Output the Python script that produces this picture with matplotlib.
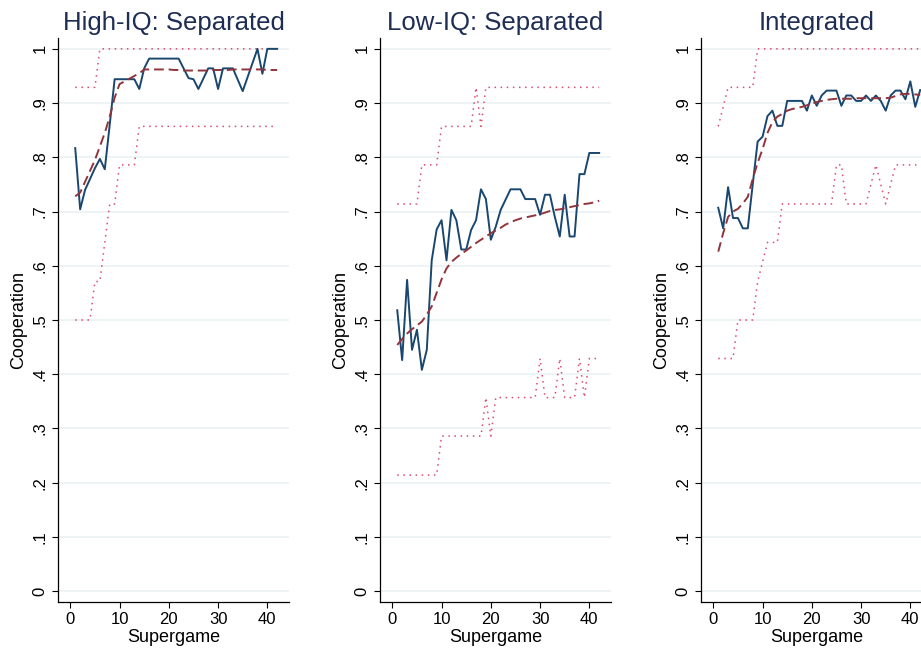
import matplotlib
matplotlib.use("Agg")
import matplotlib.pyplot as plt

# Datos
supergame = list(range(1, 43))

titles = ['High-IQ: Separated', 'Low-IQ: Separated', 'Integrated']

high_coop = [0.817, 0.704, 0.740, 0.760, 0.780, 0.797, 0.778, 0.860, 0.944, 0.944,
             0.944, 0.944, 0.944, 0.926, 0.964, 0.982, 0.982, 0.982, 0.982, 0.982,
             0.982, 0.982, 0.964, 0.946, 0.944, 0.926, 0.945, 0.964, 0.964, 0.926,
             0.964, 0.964, 0.964, 0.943, 0.922, 0.948, 0.974, 1.000, 0.954, 1.000,
             1.000, 1.000]
high_fit = [0.728, 0.735, 0.755, 0.775, 0.795, 0.820, 0.845, 0.875, 0.910, 0.935,
            0.940, 0.945, 0.950, 0.955, 0.962, 0.962, 0.962, 0.962, 0.962, 0.962,
            0.961, 0.961, 0.960, 0.960, 0.960, 0.960, 0.960, 0.960, 0.961, 0.961,
            0.961, 0.961, 0.962, 0.962, 0.962, 0.962, 0.962, 0.962, 0.962, 0.961,
            0.961, 0.961]
high_up = [0.929] * 5 + [1.0] * 37
high_lo = [0.5, 0.5, 0.5, 0.5, 0.571, 0.571, 0.643, 0.714, 0.714, 0.786,
           0.786, 0.786, 0.786] + [0.857] * 29

low_coop = [0.518, 0.426, 0.574, 0.445, 0.482, 0.408, 0.445, 0.610, 0.667, 0.684,
            0.610, 0.703, 0.684, 0.630, 0.630, 0.666, 0.684, 0.741, 0.723, 0.648,
            0.672, 0.703, 0.722, 0.741, 0.741, 0.741, 0.723, 0.723, 0.723, 0.694,
            0.731, 0.731, 0.690, 0.654, 0.731, 0.654, 0.654, 0.769, 0.769, 0.808,
            0.808, 0.808]
low_fit = [0.454, 0.465, 0.475, 0.483, 0.490, 0.497, 0.510, 0.525, 0.550, 0.575,
           0.595, 0.607, 0.615, 0.622, 0.628, 0.635, 0.642, 0.648, 0.654, 0.660,
           0.665, 0.670, 0.676, 0.680, 0.684, 0.687, 0.689, 0.691, 0.693, 0.695,
           0.698, 0.701, 0.703, 0.704, 0.706, 0.708, 0.710, 0.712, 0.714, 0.715,
           0.717, 0.720]
low_up = [0.714] * 5 + [0.786] * 4 + [0.857] * 7 + [0.929, 0.857] + [0.929] * 24
low_lo = [0.214] * 9 + [0.286] * 8 + [0.286, 0.357, 0.286] + [0.357] * 9 + \
         [0.429, 0.357, 0.357, 0.357, 0.429, 0.357, 0.357, 0.357, 0.429, 0.357,
          0.429, 0.429, 0.429]

int_coop = [0.707, 0.669, 0.745, 0.688, 0.688, 0.669, 0.669, 0.750, 0.829, 0.838,
            0.876, 0.886, 0.858, 0.858, 0.904, 0.904, 0.904, 0.904, 0.886, 0.914,
            0.895, 0.914, 0.923, 0.923, 0.923, 0.895, 0.914, 0.914, 0.904, 0.904,
            0.914, 0.904, 0.914, 0.904, 0.886, 0.914, 0.923, 0.923, 0.907, 0.940,
            0.893, 0.924]
int_fit = [0.626, 0.660, 0.690, 0.700, 0.705, 0.715, 0.727, 0.760, 0.790, 0.815,
           0.845, 0.865, 0.875, 0.880, 0.886, 0.889, 0.891, 0.893, 0.896, 0.899,
           0.902, 0.904, 0.906, 0.907, 0.908, 0.908, 0.908, 0.908, 0.909, 0.909,
           0.909, 0.909, 0.909, 0.909, 0.909, 0.910, 0.913, 0.916, 0.917, 0.917,
           0.916, 0.915]
int_up = [0.857, 0.893] + [0.929] * 6 + [1.0] * 34
int_lo = [0.429, 0.429, 0.429, 0.429, 0.5, 0.5, 0.5, 0.5, 0.571, 0.607,
          0.643, 0.643, 0.643] + [0.714] * 11 + \
         [0.786, 0.786, 0.714, 0.714, 0.714, 0.714, 0.714, 0.75, 0.786, 0.75,
          0.714, 0.75] + [0.786] * 6

coop = [high_coop, low_coop, int_coop]
fits = [high_fit, low_fit, int_fit]
ups = [high_up, low_up, int_up]
los = [high_lo, low_lo, int_lo]

yticks = [i / 10 for i in range(11)]
ylabels = ['0'] + ['.%d' % i for i in range(1, 10)] + ['1']

plt.rcParams['font.family'] = ['Liberation Sans', 'DejaVu Sans']

fig = plt.figure(figsize=(9.21, 6.56), dpi=100)
lefts = [58 / 921, 380 / 921, 701 / 921]

for i in range(3):
    ax = fig.add_axes([lefts[i], 54 / 656, 231 / 921, 564 / 656])
    ax.plot(supergame, ups[i], color='#dc4b6e', lw=1.1, linestyle=(0, (1, 3)))
    ax.plot(supergame, los[i], color='#dc4b6e', lw=1.1, linestyle=(0, (1, 3)))
    ax.plot(supergame, coop[i], color='#1a476f', lw=1.4)
    ax.plot(supergame, fits[i], color='#90353b', lw=1.4, linestyle=(0, (5, 2.5)))

    ax.set_xlim(-2.5, 44.4)
    ax.set_ylim(-0.02, 1.02)
    ax.set_xticks([0, 10, 20, 30, 40])
    ax.set_yticks(yticks)
    ax.set_yticklabels(ylabels, rotation=90, va='center')
    ax.tick_params(labelsize=12, length=4, width=0.8, color='black')
    ax.grid(axis='y', color='#eaf2f3', lw=1.2)
    ax.set_axisbelow(True)
    for s in ['top', 'right']:
        ax.spines[s].set_visible(False)
    ax.spines['left'].set_linewidth(0.9)
    ax.spines['bottom'].set_linewidth(0.9)
    ax.set_xlabel('Supergame', fontsize=13, labelpad=1)
    ax.set_ylabel('Cooperation', fontsize=13, labelpad=4)
    ax.set_title(titles[i], fontsize=18.5, color='#1e2d53', pad=6)

fig.savefig('out.png', dpi=100)
